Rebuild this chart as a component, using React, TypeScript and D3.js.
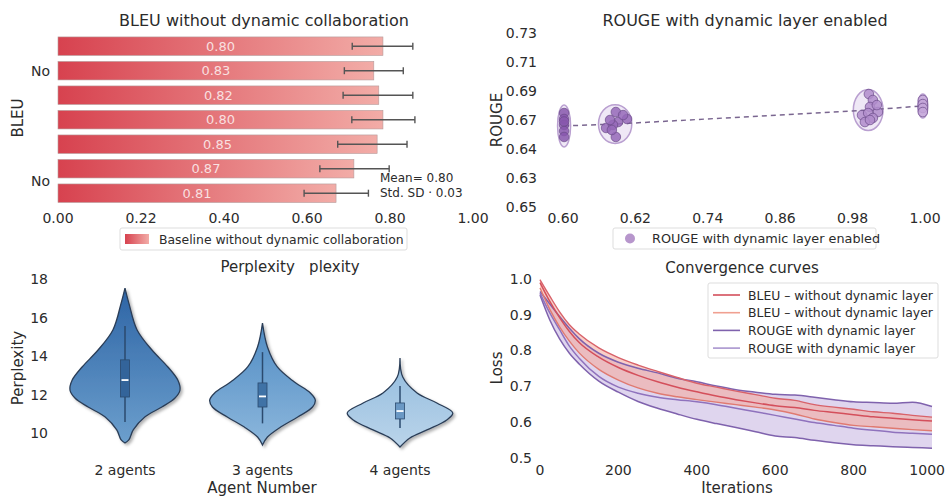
import React from "react";
import * as d3 from "d3";

const FONT = "'DejaVu Sans', sans-serif";
const TXT = "#2b2b2b";

// ---- BLEU bars (top left)
const bleuValues = [0.783, 0.761, 0.773, 0.783, 0.769, 0.713, 0.67];
const bleuLabels = ["0.80", "0.83", "0.82", "0.80", "0.85", "0.87", "0.81"];
const bleuErrLow = [0.709, 0.69, 0.687, 0.708, 0.674, 0.631, 0.593];
const bleuErrHigh = [0.855, 0.832, 0.855, 0.86, 0.841, 0.798, 0.748];
const bleuTicks = [0, 0.2, 0.4, 0.6, 0.8, 1.0];
const bleuTickLabels = ["0.00", "0.22", "0.40", "0.60", "0.80", "1.00"];
const bleuRowLabels = [{ label: "No", row: 1 }, { label: "No", row: 5.5 }];

// ---- ROUGE scatter (top right)
const rougeXTicks = [0, 0.2, 0.4, 0.6, 0.8, 1.0];
const rougeXTickLabels = ["0.60", "0.62", "0.74", "0.86", "0.98", "1.00"];
const rougeYTicks = [0.73, 0.71, 0.69, 0.67, 0.65, 0.63, 0.61];
const rougeYTickLabels = ["0.73", "0.71", "0.69", "0.67", "0.64", "0.63", "0.65"];
const clusterX = [0.003, 0.144, 0.843, 0.994];
const clusterY = [0.6659, 0.6672, 0.6769, 0.6797];
const clusterRx = [0.018, 0.046, 0.041, 0.014];
const clusterRy = [0.0145, 0.0134, 0.0141, 0.0083];
const clusterColors = ["#8757ad", "#9568b8", "#b08ccb", "#c3a5d8"];
const pointGroup = [0, 0, 0, 0, 0, 0, 1, 1, 1, 1, 1, 1, 1, 1, 1, 2, 2, 2, 2, 2, 2, 2, 2, 2, 2, 3, 3, 3, 3];
const pointX = [0.003, 0.003, 0.003, 0.003, 0.003, 0.003,
  0.146, 0.119, 0.146, 0.177, 0.152, 0.138, 0.166, 0.135, 0.13,
  0.845, 0.856, 0.87, 0.826, 0.848, 0.843, 0.856, 0.834, 0.867, 0.848,
  0.994, 0.994, 0.994, 0.994];
const pointY = [0.6748, 0.6707, 0.6666, 0.6624, 0.6583, 0.669,
  0.6755, 0.6645, 0.6583, 0.6707, 0.6686, 0.6666, 0.6734, 0.6631, 0.67,
  0.6879, 0.6838, 0.6755, 0.6734, 0.679, 0.6748, 0.6714, 0.6686, 0.6803, 0.67,
  0.6838, 0.681, 0.6783, 0.6755];

// ---- Perplexity violins (bottom left)
const agents = ["2 agents", "3 agents", "4 agents"];
const violinVals = [
  [17.53, 16.75, 15.35, 14.31, 13.43, 12.75, 12.23, 11.82, 11.35, 10.83, 10.16, 9.64, 9.48],
  [15.71, 14.47, 13.43, 12.65, 12.08, 11.71, 11.35, 10.83, 10.31, 9.79, 9.38],
  [13.9, 12.91, 12.08, 11.56, 11.04, 10.68, 10.16, 9.74, 9.27],
];
const violinDens = [
  [0, 0.07, 0.22, 0.49, 0.78, 0.96, 1.0, 0.91, 0.67, 0.36, 0.15, 0.07, 0],
  [0, 0.09, 0.27, 0.58, 0.87, 0.96, 0.91, 0.64, 0.33, 0.09, 0],
  [0, 0.05, 0.31, 0.67, 0.96, 0.85, 0.49, 0.18, 0],
];
const boxQ1 = [11.87, 11.35, 10.73];
const boxQ3 = [13.8, 12.6, 11.56];
const boxMed = [12.75, 11.9, 11.14];
const whiskLo = [10.57, 10.5, 10.26];
const whiskHi = [15.56, 14.2, 12.44];
const violinTop = ["#2d64a5", "#4f8bc3", "#93bcde"];
const violinBottom = ["#6c9fcd", "#8cb7dc", "#bad4ea"];
const boxFill = ["#33649a", "#3f72a6", "#6a98c4"];
const perpTicks = [10, 12, 14, 16, 18];

// ---- Convergence curves (bottom right)
const iters = [0, 25, 50, 75, 100, 150, 200, 250, 300, 350, 400, 450, 500, 550, 600, 650, 700, 750, 800, 850, 900, 950, 1000];
const rougeUpper = [0.965, 0.93, 0.895, 0.862, 0.833, 0.792, 0.767, 0.75, 0.737, 0.722, 0.712, 0.7, 0.69, 0.683, 0.677, 0.675, 0.669, 0.662, 0.656, 0.654, 0.652, 0.655, 0.643];
const rougeLower = [0.955, 0.885, 0.832, 0.792, 0.762, 0.714, 0.683, 0.657, 0.638, 0.622, 0.607, 0.595, 0.584, 0.572, 0.56, 0.556, 0.548, 0.541, 0.536, 0.533, 0.53, 0.528, 0.526];
const rougeInner = [0.96, 0.905, 0.858, 0.812, 0.778, 0.727, 0.697, 0.68, 0.669, 0.662, 0.656, 0.648, 0.638, 0.628, 0.618, 0.608, 0.598, 0.59, 0.582, 0.576, 0.571, 0.568, 0.565];
const bleuUpper = [0.998, 0.952, 0.908, 0.872, 0.846, 0.807, 0.78, 0.759, 0.741, 0.724, 0.708, 0.697, 0.686, 0.676, 0.666, 0.66, 0.648, 0.641, 0.635, 0.628, 0.624, 0.618, 0.613];
const bleuMean = [0.99, 0.937, 0.892, 0.853, 0.822, 0.781, 0.752, 0.73, 0.712, 0.697, 0.684, 0.672, 0.662, 0.653, 0.645, 0.64, 0.632, 0.626, 0.62, 0.614, 0.61, 0.606, 0.602];
const bleuLower = [0.975, 0.915, 0.866, 0.826, 0.793, 0.747, 0.717, 0.695, 0.68, 0.67, 0.662, 0.655, 0.648, 0.641, 0.633, 0.622, 0.608, 0.598, 0.59, 0.586, 0.582, 0.578, 0.575];
const lossTicks = [0.5, 0.6, 0.7, 0.8, 0.9, 1.0];
const iterTicks = [0, 200, 400, 600, 800, 1000];
const convLegend = [
  { label: "BLEU \u2013 without dynamic layer", color: "#d44f5b" },
  { label: "BLEU \u2013 without dynamic layer", color: "#f0a091" },
  { label: "ROUGE with dynamic layer", color: "#7f62ad" },
  { label: "ROUGE with dynamic layer", color: "#a995cf" },
];

function BleuPanel() {
  const x = d3.scaleLinear().domain([0, 1]).range([58, 473]);
  const y = d3.scaleBand<number>().domain(d3.range(bleuValues.length)).range([34, 205.4]).paddingInner(0.245).paddingOuter(0.12);
  const bw = y.bandwidth();
  const rowY = (r: number) => {
    const lo = Math.floor(r), hi = Math.ceil(r);
    return ((y(lo) as number) + (y(hi) as number)) / 2 + bw / 2;
  };
  return (
    <g>
      <text x={264} y={20} textAnchor="middle" dominantBaseline="central" fontSize={16} fill={TXT}>BLEU without dynamic collaboration</text>
      {bleuValues.map((v, i) => (
        <g key={i}>
          <rect x={x(0)} y={y(i)} width={x(v) - x(0)} height={bw} fill="url(#barGrad)" stroke="#b59a9a" strokeWidth={0.6} />
          <text x={(x(0) + x(v)) / 2} y={(y(i) as number) + bw / 2} textAnchor="middle" dominantBaseline="central" fontSize={13} fill="#fff" fillOpacity={0.78}>{bleuLabels[i]}</text>
          <g stroke="#555" strokeWidth={1.4}>
            <line x1={x(bleuErrLow[i])} x2={x(bleuErrHigh[i])} y1={(y(i) as number) + bw / 2} y2={(y(i) as number) + bw / 2} />
            <line x1={x(bleuErrLow[i])} x2={x(bleuErrLow[i])} y1={(y(i) as number) + bw / 2 - 3.5} y2={(y(i) as number) + bw / 2 + 3.5} />
            <line x1={x(bleuErrHigh[i])} x2={x(bleuErrHigh[i])} y1={(y(i) as number) + bw / 2 - 3.5} y2={(y(i) as number) + bw / 2 + 3.5} />
          </g>
        </g>
      ))}
      {bleuRowLabels.map((r, i) => (
        <text key={i} x={50} y={rowY(r.row)} textAnchor="end" dominantBaseline="central" fontSize={14} fill={TXT}>{r.label}</text>
      ))}
      <text transform="translate(18,118) rotate(-90)" textAnchor="middle" dominantBaseline="central" fontSize={15} fill={TXT}>BLEU</text>
      {bleuTicks.map((t, i) => (
        <text key={i} x={x(t)} y={218} textAnchor="middle" dominantBaseline="central" fontSize={14} fill={TXT}>{bleuTickLabels[i]}</text>
      ))}
      <text x={380} y={178} fontSize={12} fill={TXT} dominantBaseline="central">Mean= 0.80</text>
      <text x={380} y={193} fontSize={12} fill={TXT} dominantBaseline="central">Std. SD · 0.03</text>
      <rect x={120} y={228} width={287} height={22} fill="#fff" stroke="#ddd" rx={2} />
      <rect x={125} y={234} width={24} height={10} fill="url(#barGrad)" />
      <text x={159} y={239} fontSize={12.4} fill={TXT} dominantBaseline="central">Baseline without dynamic collaboration</text>
    </g>
  );
}

function RougePanel() {
  const x = d3.scaleLinear().domain([0, 1]).range([563, 925]);
  const y = d3.scaleLinear().domain([0.61, 0.73]).range([207, 33]);
  const line = d3.line<number>().x((_, i) => x(clusterX[i])).y((d) => y(d));
  return (
    <g>
      <text x={745} y={20} textAnchor="middle" dominantBaseline="central" fontSize={16} fill={TXT}>ROUGE with dynamic layer enabled</text>
      {rougeYTicks.map((t, i) => (
        <text key={i} x={537} y={y(t)} textAnchor="end" dominantBaseline="central" fontSize={14} fill={TXT}>{rougeYTickLabels[i]}</text>
      ))}
      {rougeXTicks.map((t, i) => (
        <text key={i} x={x(t)} y={218} textAnchor="middle" dominantBaseline="central" fontSize={14} fill={TXT}>{rougeXTickLabels[i]}</text>
      ))}
      <text transform="translate(497,120) rotate(-90)" textAnchor="middle" dominantBaseline="central" fontSize={15} fill={TXT}>ROUGE</text>
      {clusterX.map((cx, i) => (
        <ellipse key={i} cx={x(cx)} cy={y(clusterY[i])} rx={x(clusterRx[i]) - x(0)} ry={y(0.61) - y(0.61 + clusterRy[i])} fill="#dccbeb" fillOpacity={0.45} stroke="#b99fd0" strokeWidth={1.5} />
      ))}
      <path d={line(clusterY) || ""} fill="none" stroke="#7a6690" strokeWidth={1.5} strokeDasharray="5,4" />
      {pointX.map((px, i) => (
        <circle key={i} cx={x(px)} cy={y(pointY[i])} r={4.8} fill={clusterColors[pointGroup[i]]} fillOpacity={0.85} stroke="#6a4a88" strokeWidth={0.7} />
      ))}
      <rect x={613} y={228} width={263} height={21} fill="#fff" stroke="#ddd" rx={2} />
      <circle cx={630} cy={238.5} r={5} fill="#b796cc" />
      <text x={652} y={238.5} fontSize={12.8} fill={TXT} dominantBaseline="central">ROUGE with dynamic layer enabled</text>
    </g>
  );
}

function ViolinPanel() {
  const x = d3.scalePoint<string>().domain(agents).range([125, 400]);
  const y = d3.scaleLinear().domain([10, 18]).range([433, 279]);
  const w = d3.scaleLinear().domain([0, 1]).range([0, 55]);
  return (
    <g>
      <text x={290} y={267} textAnchor="middle" dominantBaseline="central" fontSize={15} fill={TXT} style={{ whiteSpace: "pre" }}>{"Perplexity   plexity"}</text>
      {perpTicks.map((t) => (
        <text key={t} x={48} y={y(t)} textAnchor="end" dominantBaseline="central" fontSize={14} fill={TXT}>{t}</text>
      ))}
      <text transform="translate(18,368) rotate(-90)" textAnchor="middle" dominantBaseline="central" fontSize={15} fill={TXT}>Perplexity</text>
      {agents.map((a, k) => {
        const cx = x(a) as number;
        const pts = violinVals[k].map((v, j) => ({ v, d: violinDens[k][j] }));
        const area = d3.area<{ v: number; d: number }>()
          .y((p) => y(p.v))
          .x0((p) => cx - w(p.d))
          .x1((p) => cx + w(p.d))
          .curve(d3.curveCatmullRom.alpha(0.5));
        return (
          <g key={a}>
            <path d={area(pts) || ""} fill={`url(#vg${k})`} stroke="#2a3d57" strokeWidth={1.3} filter="url(#shadow)" />
            <line x1={cx} x2={cx} y1={y(whiskLo[k])} y2={y(whiskHi[k])} stroke="#2b4a6e" strokeWidth={1.5} />
            <rect x={cx - 4.5} y={y(boxQ3[k])} width={9} height={y(boxQ1[k]) - y(boxQ3[k])} fill={boxFill[k]} stroke="#2b4a6e" strokeWidth={0.8} />
            <line x1={cx - 3.5} x2={cx + 3.5} y1={y(boxMed[k])} y2={y(boxMed[k])} stroke="#fff" strokeWidth={1.8} />
            <text x={cx} y={470} textAnchor="middle" dominantBaseline="central" fontSize={14} fill={TXT}>{a}</text>
          </g>
        );
      })}
      <text x={262} y={488} textAnchor="middle" dominantBaseline="central" fontSize={15} fill={TXT}>Agent Number</text>
    </g>
  );
}

function ConvPanel() {
  const x = d3.scaleLinear().domain([0, 1000]).range([540, 932]);
  const y = d3.scaleLinear().domain([0.5, 1.0]).range([457.5, 279]);
  const mk = (arr: number[]) => d3.line<number>().x((_, i) => x(iters[i])).y((d) => y(d)).curve(d3.curveMonotoneX)(arr) || "";
  const band = (lo: number[], hi: number[]) =>
    d3.area<number>().x((_, i) => x(iters[i])).y0((_, i) => y(lo[i])).y1((d) => y(d)).curve(d3.curveMonotoneX)(hi) || "";
  return (
    <g>
      <text x={742} y={268} textAnchor="middle" dominantBaseline="central" fontSize={15} fill={TXT}>Convergence curves</text>
      {lossTicks.map((t) => (
        <text key={t} x={532} y={y(t)} textAnchor="end" dominantBaseline="central" fontSize={14} fill={TXT}>{t.toFixed(1)}</text>
      ))}
      {iterTicks.map((t, i) => {
        const last = i === iterTicks.length - 1;
        return (
          <text key={t} x={last ? 945 : x(t)} y={470} textAnchor={last ? "end" : "middle"} dominantBaseline="central" fontSize={14} fill={TXT}>{t}</text>
        );
      })}
      <text transform="translate(497,368) rotate(-90)" textAnchor="middle" dominantBaseline="central" fontSize={15} fill={TXT}>Loss</text>
      <text x={737} y={488} textAnchor="middle" dominantBaseline="central" fontSize={15} fill={TXT}>Iterations</text>
      <path d={band(rougeLower, rougeUpper)} fill="#b9a2da" fillOpacity={0.45} />
      <path d={band(bleuLower, bleuUpper)} fill="#f4a79b" fillOpacity={0.55} />
      <path d={mk(rougeUpper)} fill="none" stroke="#7f62ad" strokeWidth={1.5} />
      <path d={mk(rougeLower)} fill="none" stroke="#7f62ad" strokeWidth={1.5} />
      <path d={mk(rougeInner)} fill="none" stroke="#8f72bd" strokeWidth={1.5} />
      <path d={mk(bleuUpper)} fill="none" stroke="#d8626a" strokeWidth={1.4} />
      <path d={mk(bleuLower)} fill="none" stroke="#e07a70" strokeWidth={1.4} />
      <path d={mk(bleuMean)} fill="none" stroke="#d44f5b" strokeWidth={1.5} />
      <rect x={708} y={283} width={230} height={75} fill="#fff" fillOpacity={0.85} stroke="#ddd" rx={2} />
      {convLegend.map((l, i) => (
        <g key={i}>
          <line x1={713} x2={740} y1={295 + i * 17.7} y2={295 + i * 17.7} stroke={l.color} strokeWidth={1.6} />
          <text x={748} y={295 + i * 17.7} fontSize={12.4} fill={TXT} dominantBaseline="central">{l.label}</text>
        </g>
      ))}
    </g>
  );
}

export default function App() {
  return (
    <svg width={946} height={496} fontFamily={FONT} style={{ position: "absolute", left: 0, top: 0, background: "#fff" }}>
      <defs>
        <linearGradient id="barGrad" x1="0" x2="1" y1="0" y2="0">
          <stop offset="0" stopColor="#d7424f" />
          <stop offset="1" stopColor="#f2aca7" />
        </linearGradient>
        {violinTop.map((c, k) => (
          <linearGradient key={k} id={`vg${k}`} x1="0" x2="0" y1="0" y2="1">
            <stop offset="0" stopColor={c} />
            <stop offset="1" stopColor={violinBottom[k]} />
          </linearGradient>
        ))}
        <filter id="shadow" x="-20%" y="-20%" width="140%" height="140%">
          <feDropShadow dx="2" dy="2" stdDeviation="1.8" floodColor="#000" floodOpacity="0.3" />
        </filter>
      </defs>
      <BleuPanel />
      <RougePanel />
      <ViolinPanel />
      <ConvPanel />
    </svg>
  );
}
